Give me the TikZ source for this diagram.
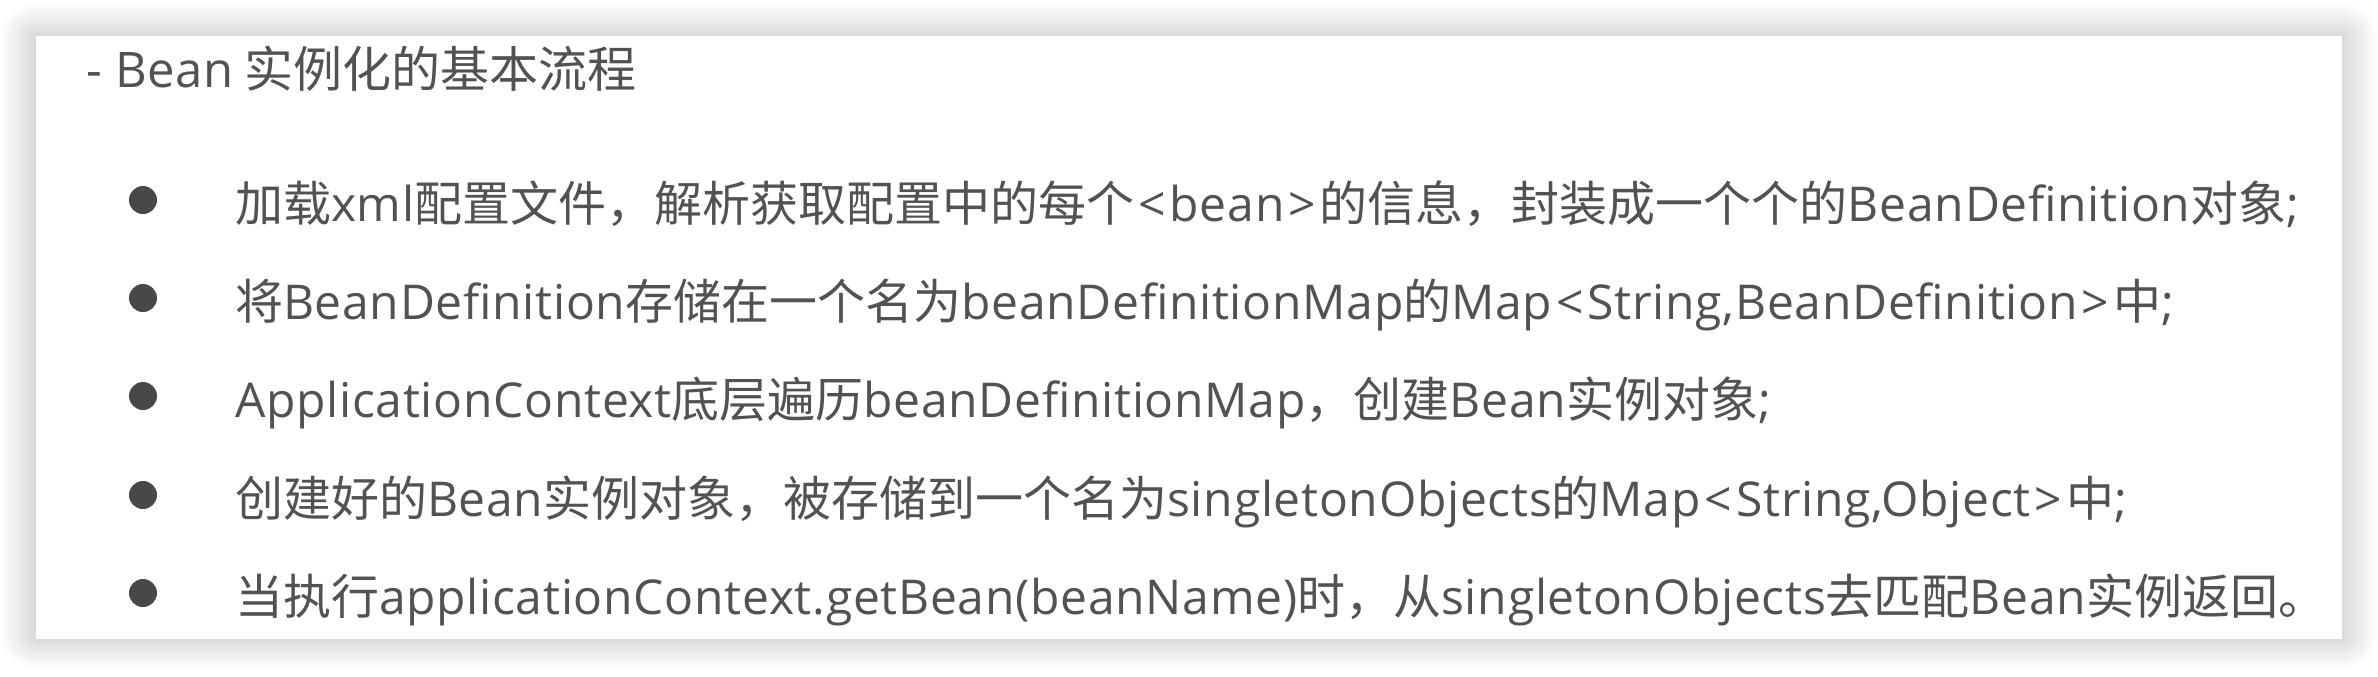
\documentclass[tikz,border=0pt]{standalone}
\usepackage{fontspec}
\setmainfont{Noto Sans CJK SC}
\newfontfamily\latinf{Open Sans}[LetterSpace=1.5]
\newcommand\lat[1]{{\latinf #1}}
\newcommand\lbr{\kern2pt<\kern2pt}
\newcommand\rbr{\kern2pt>\kern2pt}
\definecolor{ink}{HTML}{525252}
\definecolor{dotc}{HTML}{484848}
\tikzset{
  txt/.style={anchor=base west, inner sep=0pt, outer sep=0pt, text=ink, font=\fontsize{24pt}{28pt}\selectfont},
  ttl/.style={anchor=base west, inner sep=0pt, outer sep=0pt, text=ink, font=\fontsize{24.5pt}{28pt}\selectfont},
  dot/.style={circle, fill=dotc, minimum size=14pt, inner sep=0pt}
}
\begin{document}
\begin{tikzpicture}[x=0.5pt,y=-0.5pt]
\useasboundingbox (0,0) rectangle (2378,676);
\fill[white] (0,0) rectangle (2378,676);
\foreach \i in {1,...,18}{
  \fill[black,opacity=0.009,rounded corners=\i*1pt] ({36-2*\i},{36-1.8*\i}) rectangle ({2342+2*\i},{639+1.6*\i});
}
\fill[white] (36,36) rectangle (2342,639);
\node[ttl] (title) at (86,87) {\lat{- Bean} 实例化的基本流程};
\node[dot] (d1) at (143,200) {};
\node[dot] (d2) at (143,298) {};
\node[dot] (d3) at (143,396) {};
\node[dot] (d4) at (143,495) {};
\node[dot] (d5) at (143,593) {};
\node[txt] (l1) at (235,221) {加载\lat{xml}配置文件，解析获取配置中的每个\lat{\lbr bean\rbr}的信息，封装成一个个的\lat{BeanDefinition}对象\lat{;}};
\node[txt] (l2) at (235,319) {将\lat{BeanDefinition}存储在一个名为\lat{beanDefinitionMap}的\lat{Map\lbr String,BeanDefinition\rbr}中\lat{;}};
\node[txt] (l3) at (235,417) {\lat{ApplicationContext}底层遍历\lat{beanDefinitionMap}，创建\lat{Bean}实例对象\lat{;}};
\node[txt] (l4) at (235,516) {创建好的\lat{Bean}实例对象，被存储到一个名为\lat{singletonObjects}的\lat{Map\lbr String,Object\rbr}中\lat{;}};
\node[txt] (l5) at (235,614) {当执行\lat{applicationContext.getBean(beanName)}时，从\lat{singletonObjects}去匹配\lat{Bean}实例返回。};
\end{tikzpicture}
\end{document}
